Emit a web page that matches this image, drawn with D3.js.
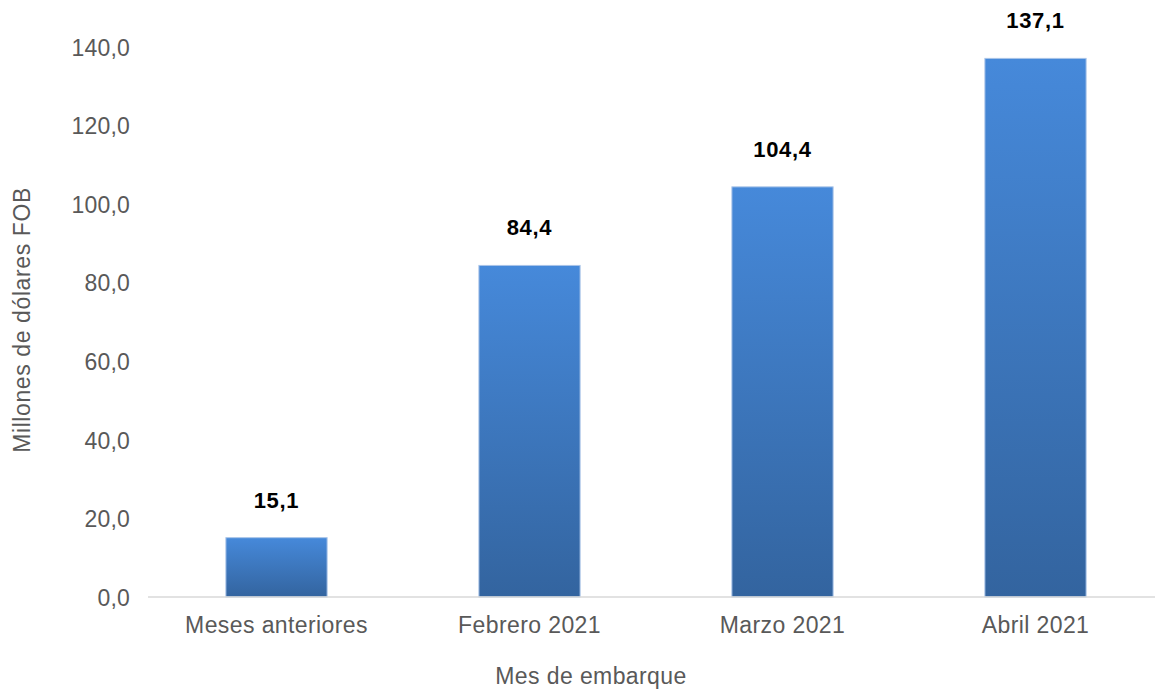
<!DOCTYPE html>
<html>
<head>
<meta charset="utf-8">
<script src="https://cdn.jsdelivr.net/npm/d3@7"></script>
<style>
  body { margin: 0; background: #fff; }
  text { font-family: "Liberation Sans", Arial, sans-serif; }
</style>
</head>
<body>
<div id="chart"></div>
<script>
// datos
const categorias = ["Meses anteriores", "Febrero 2021", "Marzo 2021", "Abril 2021"];
const valores = [15.1, 84.4, 104.4, 137.1];
const ticksY = [0, 20, 40, 60, 80, 100, 120, 140];

const W = 1155, H = 690;
const margin = {top: 47, right: -7, bottom: 93, left: 150};
const width = W - margin.left - margin.right,
      height = H - margin.top - margin.bottom;

const svg = d3.select('#chart').append('svg')
    .attr('width', W).attr('height', H);

const defs = svg.append('defs');
const grad = defs.append('linearGradient')
    .attr('id', 'barGrad')
    .attr('x1', 0).attr('y1', 0).attr('x2', 0).attr('y2', 1);
grad.append('stop').attr('offset', '0%').attr('stop-color', '#4689da');
grad.append('stop').attr('offset', '100%').attr('stop-color', '#33649f');

const g = svg.append('g')
    .attr('transform', 'translate(' + margin.left + ',' + margin.top + ')');

const x = d3.scaleBand()
    .domain(categorias)
    .range([0, width])
    .paddingInner(0.6)
    .paddingOuter(0.3);

const y = d3.scaleLinear()
    .domain([0, 140])
    .range([height, 0]);

const fmt = v => d3.format('.1f')(v).replace('.', ',');

// eje y (solo etiquetas)
const yAxis = g.append('g')
    .call(d3.axisLeft(y).tickValues(ticksY).tickFormat(fmt).tickSize(0).tickPadding(20));
yAxis.select('.domain').remove();
yAxis.selectAll('text')
    .attr('fill', '#595959')
    .attr('dy', '0.36em')
    .style('font-size', '23px')
    .style('letter-spacing', '0.2px');

// barras
g.selectAll('rect.bar')
    .data(valores)
    .enter()
    .append('rect')
    .attr('class', 'bar')
    .attr('x', (d, i) => x(categorias[i]))
    .attr('y', d => y(d))
    .attr('width', x.bandwidth())
    .attr('height', d => y(0) - y(d))
    .attr('fill', 'url(#barGrad)')
    .attr('stroke', '#a9c4e8')
    .attr('stroke-width', 1);

// etiquetas de datos
g.selectAll('text.lbl')
    .data(valores)
    .enter()
    .append('text')
    .attr('class', 'lbl')
    .attr('x', (d, i) => x(categorias[i]) + x.bandwidth() / 2)
    .attr('y', d => y(d) - 30)
    .attr('text-anchor', 'middle')
    .style('font-size', '22px')
    .style('font-weight', 'bold')
    .style('letter-spacing', '0.7px')
    .attr('fill', '#000')
    .text(d => fmt(d));

// eje x
const xAxis = g.append('g')
    .attr('transform', 'translate(0,' + height + ')')
    .call(d3.axisBottom(x).tickSize(0).tickPadding(0));
xAxis.select('.domain')
    .attr('stroke', '#d9d9d9')
    .attr('stroke-width', 1.5)
    .attr('d', 'M-2,0H' + (width + 10));
xAxis.selectAll('text')
    .attr('fill', '#595959')
    .attr('dy', null)
    .attr('y', 36)
    .style('font-size', '23px')
    .style('letter-spacing', '0.4px');

// titulos
svg.append('text')
    .attr('x', 591)
    .attr('y', 684)
    .attr('text-anchor', 'middle')
    .attr('fill', '#595959')
    .style('font-size', '23px')
    .style('letter-spacing', '0.4px')
    .text('Mes de embarque');

svg.append('text')
    .attr('transform', 'translate(30,320) rotate(-90)')
    .attr('text-anchor', 'middle')
    .attr('fill', '#595959')
    .style('font-size', '23px')
    .style('letter-spacing', '0.6px')
    .text('Millones de dólares FOB');
</script>
</body>
</html>
